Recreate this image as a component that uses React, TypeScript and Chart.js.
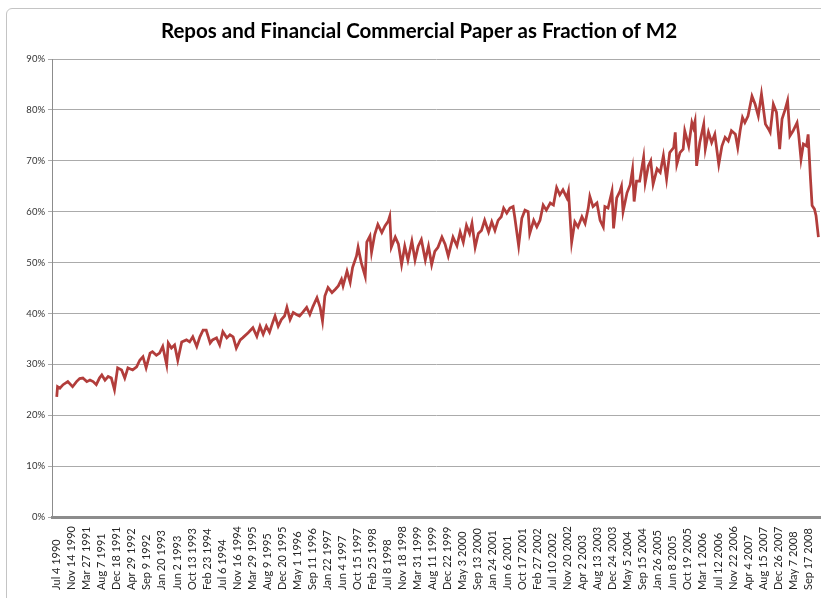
import { useEffect, useRef } from "react";
import { Chart, registerables } from "chart.js";

Chart.register(...registerables);

const TITLE = "Repos and Financial Commercial Paper as Fraction of M2";

const TICK_LABELS = [
  "Jul 4 1990", "Nov 14 1990", "Mar 27 1991", "Aug 7 1991", "Dec 18 1991",
  "Apr 29 1992", "Sep 9 1992", "Jan 20 1993", "Jun 2 1993", "Oct 13 1993",
  "Feb 23 1994", "Jul 6 1994", "Nov 16 1994", "Mar 29 1995", "Aug 9 1995",
  "Dec 20 1995", "May 1 1996", "Sep 11 1996", "Jan 22 1997", "Jun 4 1997",
  "Oct 15 1997", "Feb 25 1998", "Jul 8 1998", "Nov 18 1998", "Mar 31 1999",
  "Aug 11 1999", "Dec 22 1999", "May 3 2000", "Sep 13 2000", "Jan 24 2001",
  "Jun 6 2001", "Oct 17 2001", "Feb 27 2002", "Jul 10 2002", "Nov 20 2002",
  "Apr 2 2003", "Aug 13 2003", "Dec 24 2003", "May 5 2004", "Sep 15 2004",
  "Jan 26 2005", "Jun 8 2005", "Oct 19 2005", "Mar 1 2006", "Jul 12 2006",
  "Nov 22 2006", "Apr 4 2007", "Aug 15 2007", "Dec 26 2007", "May 7 2008",
  "Sep 17 2008",
];

// weeks between consecutive tick labels
const TICK_STEP_WEEKS = 19;

// week index since Jul 4 1990
const WEEKS = [
  0, 1, 4, 8, 14, 20, 25, 29, 33, 38, 42, 46, 50, 54, 57, 61, 65, 69, 73, 77,
  82, 86, 90, 96, 101, 105, 109, 113, 118, 121, 126, 130, 134, 139, 141, 145, 149, 153, 158, 164,
  168, 172, 177, 181, 185, 189, 194, 197, 202, 206, 210, 215, 219, 223, 227, 232, 235, 242, 248, 253,
  257, 261, 265, 269, 273, 276, 280, 284, 288, 291, 295, 299, 303, 307, 311, 316, 320, 324, 329, 333,
  336, 339, 343, 348, 352, 356, 360, 362, 367, 371, 374, 379, 381, 385, 390, 392, 396, 398, 402, 406,
  411, 415, 419, 421, 423, 428, 432, 436, 440, 444, 449, 453, 457, 461, 466, 470, 474, 478, 482, 487,
  491, 495, 501, 506, 510, 514, 518, 522, 525, 529, 533, 537, 541, 546, 550, 554, 558, 562, 565, 569,
  573, 577, 579, 584, 588, 592, 596, 598, 603, 607, 611, 615, 619, 624, 628, 632, 636, 640, 645, 647,
  651, 655, 659, 664, 668, 672, 674, 678, 683, 687, 691, 693, 697, 702, 704, 708, 712, 714, 716, 721,
  725, 728, 730, 733, 737, 742, 744, 748, 751, 754, 759, 763, 767, 771, 775, 780, 782, 784, 788, 792,
  794, 799, 803, 805, 807, 809, 813, 818, 820, 824, 828, 832, 837, 841, 845, 849, 853, 858, 861, 864,
  867, 870, 874, 879, 883, 887, 891, 896, 900, 902, 906, 910, 914, 917, 921, 924, 927, 931, 936, 938,
  941, 944, 948, 950, 953, 955, 958, 960, 963,
];

// repos + financial commercial paper as % of M2
const VALUES = [
  23.6, 25.6, 25.3, 26.0, 26.6, 25.6, 26.6, 27.2, 27.3, 26.6, 26.9, 26.6, 26.0, 27.3, 27.9, 26.9, 27.6, 27.3, 25.0, 29.3,
  28.9, 27.3, 29.3, 28.9, 29.5, 30.8, 31.5, 29.3, 32.2, 32.5, 31.8, 32.2, 33.5, 29.9, 34.2, 33.2, 33.8, 30.8, 34.4, 34.8,
  34.4, 35.4, 33.5, 35.4, 36.7, 36.7, 34.2, 34.8, 35.2, 33.8, 36.4, 35.2, 35.8, 35.4, 33.2, 34.8, 35.2, 36.2, 37.2, 35.5,
  37.5, 35.9, 37.5, 36.3, 38.2, 39.5, 37.5, 38.8, 39.5, 41.2, 38.8, 40.2, 39.8, 39.5, 40.2, 41.2, 39.8, 41.4, 43.1, 41.2,
  38.5, 43.4, 45.1, 44.1, 44.7, 45.4, 46.7, 45.4, 48.3, 46.1, 49.0, 51.3, 53.0, 50.0, 47.3, 54.0, 55.2, 52.0, 55.5, 57.5,
  55.9, 57.2, 58.1, 59.1, 53.0, 55.0, 53.6, 49.6, 53.2, 50.5, 54.2, 50.5, 53.2, 54.5, 50.5, 53.2, 49.6, 52.2, 53.0, 55.0,
  53.6, 51.3, 55.0, 53.3, 56.0, 54.0, 57.3, 55.7, 57.7, 53.0, 55.7, 56.3, 58.3, 56.0, 58.0, 56.3, 58.3, 59.0, 60.7, 59.7,
  60.7, 61.0, 59.0, 53.3, 58.7, 60.3, 60.0, 55.7, 58.3, 57.0, 58.3, 61.3, 60.3, 61.7, 61.3, 64.7, 63.3, 64.3, 62.7, 64.0,
  54.0, 58.0, 57.0, 59.0, 57.7, 60.7, 63.0, 61.0, 61.7, 58.3, 57.0, 61.0, 60.7, 64.0, 56.7, 62.7, 64.0, 65.0, 60.0, 63.7,
  65.3, 68.3, 62.0, 66.0, 66.0, 70.7, 65.7, 69.0, 70.0, 65.4, 68.4, 67.7, 71.0, 66.4, 71.6, 72.6, 75.6, 69.3, 71.6, 72.3,
  75.9, 72.9, 77.5, 76.5, 77.8, 69.0, 73.6, 77.2, 72.3, 75.6, 73.6, 75.2, 69.3, 72.9, 74.6, 73.9, 75.9, 75.2, 72.6, 75.9,
  78.5, 77.5, 78.8, 82.7, 81.1, 78.8, 83.1, 77.2, 76.2, 75.6, 81.1, 79.5, 72.3, 78.2, 80.1, 81.8, 74.9, 75.9, 77.5, 75.2,
  70.3, 73.3, 72.9, 75.2, 66.4, 61.2, 60.5, 59.2, 55.0,
];

const FONT = "Lato, 'Open Sans', sans-serif";

const xLabelPlugin = {
  id: "verticalXLabels",
  afterDraw(chart: any) {
    const ctx = chart.ctx;
    const xs = chart.scales.x;
    const base = chart.chartArea.bottom + 73;
    ctx.save();
    ctx.font = `11px ${FONT}`;
    ctx.fillStyle = "#262626";
    ctx.textAlign = "left";
    ctx.textBaseline = "middle";
    TICK_LABELS.forEach((lab, i) => {
      const x = xs.getPixelForValue(i * TICK_STEP_WEEKS);
      ctx.save();
      ctx.translate(x, base);
      ctx.rotate(-Math.PI / 2);
      ctx.fillText(lab, 0, 0);
      ctx.restore();
    });
    ctx.restore();
  },
};

export default function App() {
  const ref = useRef<HTMLCanvasElement | null>(null);

  useEffect(() => {
    if (!ref.current) return;
    const chart = new Chart(ref.current, {
      type: "line",
      data: {
        datasets: [
          {
            label: "Repos + Financial CP / M2",
            data: WEEKS.map((w, i) => ({ x: w, y: VALUES[i] })),
            borderColor: "#b23d3b",
            borderWidth: 2.75,
            pointRadius: 0,
            tension: 0,
            fill: false,
          },
        ],
      },
      options: {
        animation: false,
        responsive: false,
        layout: { padding: { left: 18, right: 1, top: 0, bottom: 0 } },
        plugins: {
          legend: { display: false },
          tooltip: { enabled: false },
          title: {
            display: true,
            text: TITLE,
            color: "#000",
            font: { family: FONT, size: 20.5, weight: "bold" },
            padding: { top: 19, bottom: 15.4 },
          },
        },
        scales: {
          x: {
            type: "linear",
            min: -6,
            max: 965,
            grid: { display: false, drawTicks: false },
            border: { display: true, color: "#8c8c8c", width: 3 },
            ticks: { display: false },
            afterFit: (s: any) => {
              s.height = 81;
            },
          },
          y: {
            min: 0,
            max: 90,
            ticks: {
              stepSize: 10,
              callback: (v: any) => `${v}%`,
              color: "#333",
              font: { family: FONT, size: 9.5 },
              padding: 3,
            },
            grid: { color: "#ababab", lineWidth: 1, tickLength: 4 },
            border: { display: true, color: "#8c8c8c", width: 1 },
            afterFit: (s: any) => {
              s.width = 34;
            },
          },
        },
      },
      plugins: [xLabelPlugin],
    });
    return () => chart.destroy();
  }, []);

  return (
    <div
      style={{
        position: "absolute",
        left: 0,
        top: 0,
        width: 821,
        height: 598,
        overflow: "hidden",
        background: "#fff",
      }}
    >
      <div
        style={{
          position: "absolute",
          left: 6,
          top: 8,
          width: 900,
          height: 700,
          border: "1px solid #c4c4c4",
          borderRadius: 6,
          boxSizing: "border-box",
        }}
      />
      <canvas
        ref={ref}
        width={821}
        height={598}
        style={{ position: "absolute", left: 0, top: 0 }}
      />
    </div>
  );
}
